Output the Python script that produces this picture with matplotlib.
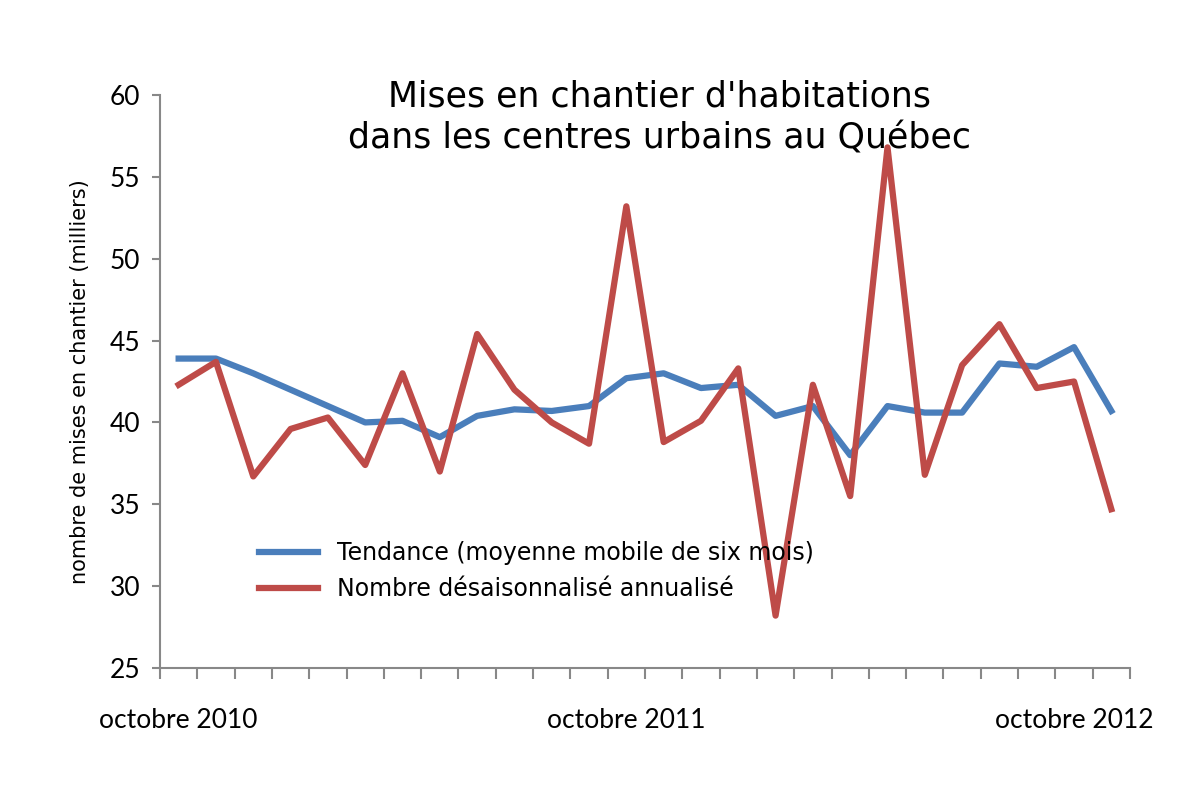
import matplotlib
matplotlib.use("Agg")
import matplotlib.pyplot as plt
import numpy as np

months = list(range(26))
tick_labels = {0: "octobre 2010", 12: "octobre 2011", 24: "octobre 2012"}
tendance = [43.9, 43.9, 43.0, 42.0, 41.0, 40.0, 40.1, 39.1, 40.4, 40.8, 40.7, 41.0, 42.7,
            43.0, 42.1, 42.3, 40.4, 41.0, 38.0, 41.0, 40.6, 40.6, 43.6, 43.4, 44.6, 40.7]
nombre = [42.3, 43.7, 36.7, 39.6, 40.3, 37.4, 43.0, 37.0, 45.4, 42.0, 40.0, 38.7, 53.2,
          38.8, 40.1, 43.3, 28.2, 42.3, 35.5, 56.8, 36.8, 43.5, 46.0, 42.1, 42.5, 34.7]

fig = plt.figure(figsize=(12, 8), dpi=100)
ax = fig.add_axes([160/1200, 1-668/800, 970/1200, 573/800])
x = np.array(months) + 0.5
ax.plot(x, tendance, color="#4A7EBB", lw=4.5, label="Tendance (moyenne mobile de six mois)")
ax.plot(x, nombre, color="#BE4B48", lw=4.5, label="Nombre désaisonnalisé annualisé")
ax.set_xlim(0, 26)
ax.set_ylim(25, 60)
ax.set_yticks(range(25, 61, 5))
ax.set_yticklabels([str(v) for v in range(25, 61, 5)], family="Lato", fontsize=19)
ax.set_xticks(range(27))
ax.set_xticklabels([""] * 27)
for i, t in tick_labels.items():
    ax.text(i + 0.5, 21.8, t, ha="center", va="center", fontsize=19, family="Lato")
ax.tick_params(axis="x", length=8, width=1.5, direction="out", color="#888888")
ax.tick_params(axis="y", length=6, width=1.5, color="#888888", pad=8)
for s in ["top", "right"]:
    ax.spines[s].set_visible(False)
for s in ["left", "bottom"]:
    ax.spines[s].set_color("#888888")
    ax.spines[s].set_linewidth(1.5)
ax.set_ylabel("nombre de mises en chantier (milliers)", fontsize=15, labelpad=14,
              family="Liberation Sans Narrow")
ax.text(13.4, 58.6, "Mises en chantier d'habitations\ndans les centres urbains au Québec",
        ha="center", va="center", fontsize=25, linespacing=1.3, family="Liberation Sans Narrow")
leg = ax.legend(loc="lower left", bbox_to_anchor=(0.08, 0.08), frameon=False,
                prop={"family": "Liberation Sans Narrow", "size": 17},
                handlelength=2.5, labelspacing=0.5)
fig.savefig("out.png")
